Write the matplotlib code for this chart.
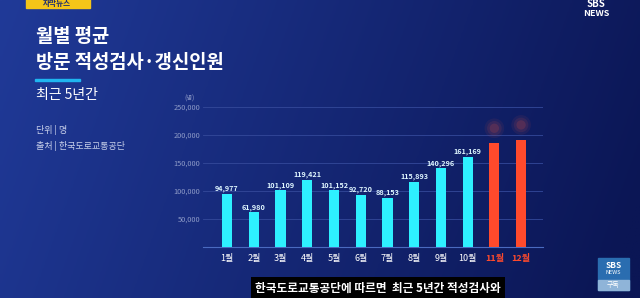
import numpy as np
import matplotlib.pyplot as plt
from matplotlib.patches import Rectangle

plt.rcParams['font.family'] = ['Noto Sans CJK KR', 'DejaVu Sans']

## {{{                          --     data     --
months = ['1월', '2월', '3월', '4월', '5월', '6월', '7월', '8월', '9월', '10월', '11월', '12월']
visitors = [94977, 61980, 101109, 119421, 101152, 92720, 88153, 115893, 140296, 161169, 185000, 191000]
value_labels = ['94,977', '61,980', '101,109', '119,421', '101,152', '92,720', '88,153',
                '115,893', '140,296', '161,169', '', '']
highlight = [False] * 10 + [True, True]
yticks = [50000, 100000, 150000, 200000, 250000]
ytick_labels = ['50,000', '100,000', '150,000', '200,000', '250,000']
##────────────────────────────────────────────────────────────────────────────}}}

W, H = 640, 298
fig = plt.figure(figsize=(W / 100, H / 100), dpi=100)

# background gradient
bg = fig.add_axes([0, 0, 1, 1])
xx, yy = np.meshgrid(np.linspace(0, 1, 200), np.linspace(0, 1, 100))
c_left = np.array([0x20, 0x3a, 0x98]) / 255
c_right = np.array([0x0b, 0x16, 0x55]) / 255
t = np.clip(xx * 0.9 + yy * 0.15, 0, 1)[..., None]
img = c_left * (1 - t) + c_right * t
bg.imshow(img, extent=[0, 1, 0, 1], aspect='auto', origin='upper')
bg.set_xlim(0, 1)
bg.set_ylim(0, 1)
bg.axis('off')

# yellow tag top-left
bg.add_patch(Rectangle((26 / W, 1 - 8 / H), 64 / W, 12 / H, color='#f5c518', zorder=2))
bg.text(57 / W, 1 - 3.5 / H, '자막뉴스', color='#1a2a70', fontsize=5.5, fontweight='bold',
        ha='center', va='center', zorder=3)

# titles
bg.text(36 / W, 1 - 37 / H, '월별 평균', color='white', fontsize=13.5, fontweight='bold', va='center')
bg.text(36 / W, 1 - 63 / H, '방문 적성검사·갱신인원', color='white', fontsize=13.5, fontweight='bold', va='center')
bg.add_patch(Rectangle((35 / W, 1 - 81 / H), 45 / W, 2.5 / H, color='#1fb5f0'))
bg.text(36 / W, 1 - 95 / H, '최근 5년간', color='white', fontsize=10, va='center')
bg.text(36 / W, 1 - 130 / H, '단위 | 명', color='#c8d0ea', fontsize=6.5, va='center')
bg.text(36 / W, 1 - 146 / H, '출처 | 한국도로교통공단', color='#c8d0ea', fontsize=6.5, va='center')

# SBS logos
bg.text(596 / W, 1 - 4 / H, 'SBS', color='white', fontsize=7, fontweight='bold', ha='center', va='center')
bg.text(596 / W, 1 - 13 / H, 'NEWS', color='white', fontsize=6.5, fontweight='bold', ha='center', va='center')
bg.add_patch(Rectangle((598 / W, 1 - 290 / H), 31 / W, 32 / H, color='#2a6db0', zorder=2))
bg.add_patch(Rectangle((598 / W, 1 - 290 / H), 31 / W, 10 / H, color='#8fb4d8', zorder=3))
bg.text(613.5 / W, 1 - 265 / H, 'SBS', color='white', fontsize=6, fontweight='bold', ha='center', va='center', zorder=4)
bg.text(613.5 / W, 1 - 273 / H, 'NEWS', color='white', fontsize=4, ha='center', va='center', zorder=4)
bg.text(613.5 / W, 1 - 285 / H, '구독', color='white', fontsize=5, ha='center', va='center', zorder=4)

# chart
ax = fig.add_axes([203 / W, 51 / H, 340 / W, 140 / H])
ax.set_facecolor('none')
x = np.arange(len(months))
colors = ['#ff4a2c' if h else '#2ef0ff' for h in highlight]
ax.bar(x, visitors, width=0.38, color=colors, zorder=3)
for xi, v, lab in zip(x, visitors, value_labels):
    if lab:
        ax.text(xi, v + 3000, lab, color='#dff6ff', fontsize=5.2, fontweight='bold',
                ha='center', va='bottom', zorder=4)
# blurred labels above the highlighted bars
for xi, v, h in zip(x, visitors, highlight):
    if h:
        for s, a in [(200, 0.07), (110, 0.1), (45, 0.15)]:
            ax.scatter(xi, v + 27000, s=s, color='#ff5a3a', alpha=a, edgecolors='none', zorder=4)

ax.set_xlim(-0.9, 11.82)
ax.set_ylim(0, 250000)
ax.set_yticks(yticks)
ax.set_yticklabels(ytick_labels)
ax.grid(axis='y', color='#34499a', linewidth=0.6, zorder=0)
ax.tick_params(axis='y', length=0, pad=2, labelsize=5.3, labelcolor='#8e9bc8')
ax.set_xticks(x)
ax.set_xticklabels(months)
ax.tick_params(axis='x', length=0, pad=5, labelsize=6.5, labelcolor='white')
for lab, h in zip(ax.get_xticklabels(), highlight):
    if h:
        lab.set_color('#ff4a2c')
        lab.set_fontweight('bold')
for side in ['top', 'right', 'left']:
    ax.spines[side].set_visible(False)
ax.spines['bottom'].set_color('#4a6ac0')
ax.spines['bottom'].set_linewidth(0.8)
ax.text(-0.04, 1.03, '(명)', transform=ax.transAxes, color='#8e9bc8', fontsize=4.5, ha='center', va='bottom')

# subtitle caption
fig.text(378 / W, 1 - 288 / H, '한국도로교통공단에 따르면  최근 5년간 적성검사와', color='white',
         fontsize=8.4, fontweight='bold', ha='center', va='center',
         bbox=dict(facecolor='black', edgecolor='none', pad=3))

fig.savefig('out.png', dpi=100)
